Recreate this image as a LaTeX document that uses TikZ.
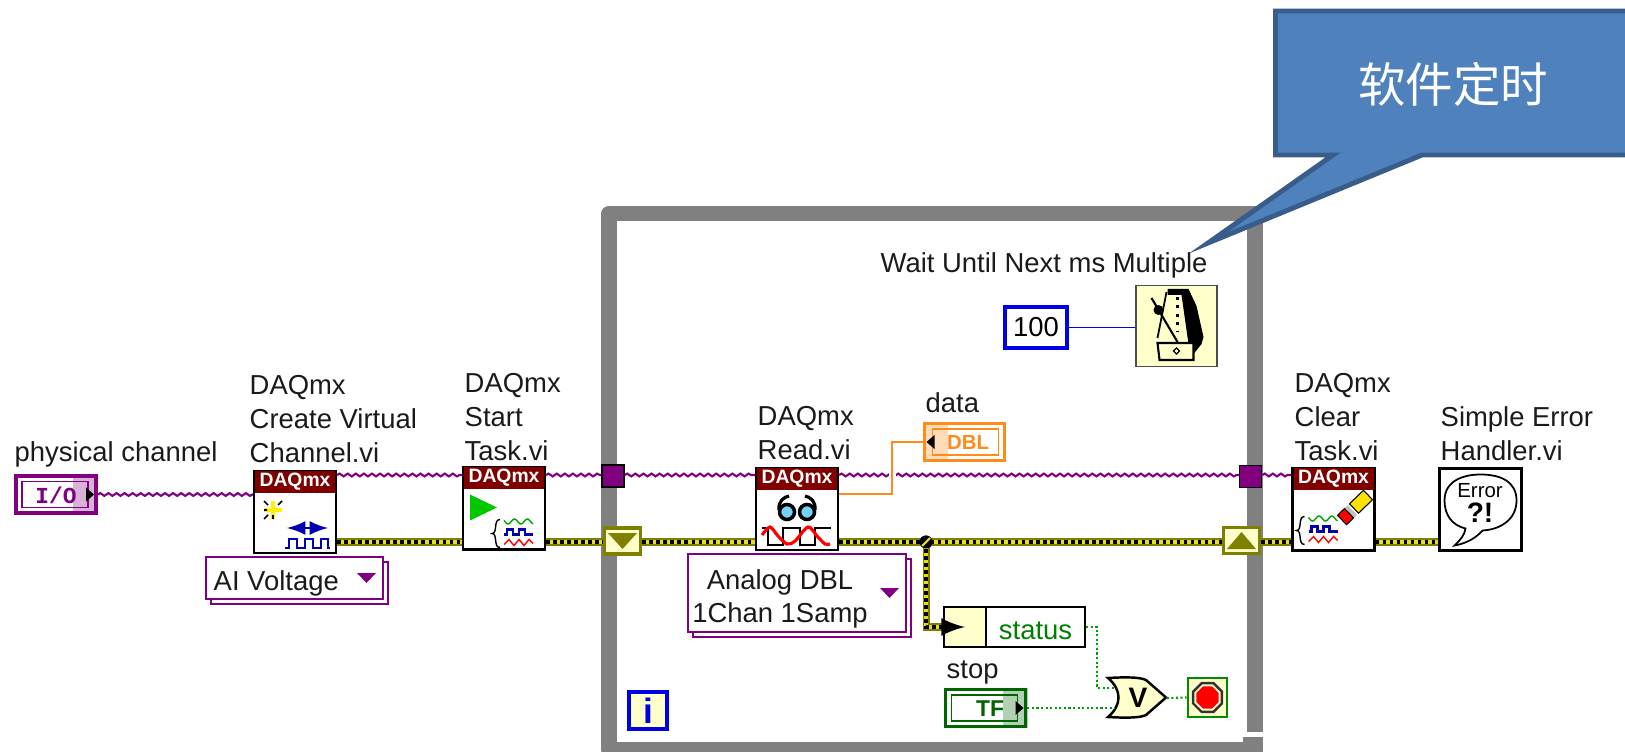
\documentclass[tikz,border=0pt]{standalone}
\usepackage{fontspec}
\setmainfont{Liberation Sans}
\setmonofont{Liberation Mono}
\newfontfamily\cjkfont{Noto Sans CJK SC}
\usetikzlibrary{decorations.pathmorphing,shadows,shapes.geometric}
\definecolor{lvpurple}{HTML}{800080}
\definecolor{lvred}{HTML}{800000}
\definecolor{lvolive}{HTML}{808000}
\definecolor{lvcream}{HTML}{FFFFCC}
\definecolor{lvgreen}{HTML}{006400}
\definecolor{lvdots}{HTML}{00A000}
\definecolor{lvorange}{HTML}{FF8C1A}
\definecolor{lvblue}{HTML}{0000E6}
\definecolor{lvnavy}{HTML}{0000B0}
\definecolor{lvgray}{HTML}{808080}
\definecolor{lvtext}{HTML}{1A1A1A}
\definecolor{noteblue}{HTML}{4F81BD}
\definecolor{noteline}{HTML}{385D8A}
\newcommand{\lvfont}{\fontsize{7.8}{9.55}\selectfont}
\tikzset{
  lvlab/.style={anchor=south west,inner sep=0pt,align=left,text=lvtext,font=\lvfont},
  vinode/.style={draw=black,fill=white,line width=.6pt,minimum width=.82cm,minimum height=.82cm,inner sep=0pt},
  vihead/.style={anchor=north,fill=lvred,text=white,minimum width=.8cm,minimum height=.22cm,inner sep=0pt,font=\fontsize{5.5}{6}\bfseries\selectfont},
  termnode/.style={draw=#1,fill=white,line width=1pt,minimum width=.8cm,minimum height=.37cm,inner sep=0pt},
  enumbox/.style={draw=lvpurple,fill=white,line width=.5pt,inner sep=0pt,copy shadow={shadow xshift=.05cm,shadow yshift=-.05cm}},
  regnode/.style={draw=lvolive,fill=lvcream,line width=1pt,minimum width=.36cm,minimum height=.26cm,inner sep=0pt},
  tunnode/.style={draw=black,fill=lvpurple,line width=.4pt,minimum size=.22cm,inner sep=0pt},
  taskwire/.style={lvpurple,line width=.6pt,decorate,decoration={snake,amplitude=.4pt,segment length=2.3pt}},
  errwire/.style={lvolive,line width=2pt,postaction={draw=yellow!90!black,line width=1.1pt},postaction={draw=black,line width=1.1pt,dash pattern=on 1pt off 1pt}},
  blwire/.style={lvdots,line width=.6pt,dash pattern=on .6pt off .7pt},
  dblwire/.style={lvorange,line width=.55pt},
  intwire/.style={lvblue,line width=.55pt},
  looppen/.style={lvgray,line width=4.3pt,line join=round}
}
% bracket and the three channel traces
\newcommand{\lvwaves}{
  \draw[line width=.4pt] (8,-14) .. controls (1,-14) and (6,0) .. (0,0) .. controls (6,0) and (1,14) .. (8,14);
  \draw[green!65!black,line width=.4pt] plot[domain=12:41,samples=25,smooth] (\x,{-12+2.5*sin(\x*28)});
  \draw[lvnavy,line width=.6pt] (12,1) -- (15,1) -- (15,-4) -- (21,-4) -- (21,1) -- (27,1) -- (27,-4) -- (33,-4) -- (33,1) -- (41,1);
  \draw[red,line width=.4pt] (12,11) -- (17,6) -- (22,12) -- (27,6) -- (32,12) -- (37,6) -- (41,10);
}
% inner ring, shaded end and arrow of a terminal
\newcommand{\lvterm}[1]{
  \draw[#1,line width=.45pt] (-34,-13) rectangle (32,13);
  \fill[#1,opacity=.3] (17,-20) rectangle (42,20);
  \fill[black] (30,-7) -- (38,0) -- (30,7) -- cycle;
}
\begin{document}
\begin{tikzpicture}[x=.01cm,y=-.01cm]
\useasboundingbox (0,0) rectangle (1625,752);
\clip (0,0) rectangle (1625,752);
% loop frame
\draw[looppen] (1255,732) -- (1255,213.5) -- (609,213.5) -- (609,749.5) -- (1263,749.5);
\fill[lvgray] (1243,737) rectangle (1263,752);
\coordinate (tasklev) at (0,475);
\coordinate (errlev) at (0,542);

% front panel terminals
\node[termnode=lvpurple] (iochan) at (56,494.5) {};
\begin{scope}[shift={(iochan.center)}]\lvterm{lvpurple}\end{scope}
\node[font=\fontsize{6.5}{7}\ttfamily\bfseries,text=lvpurple,inner sep=0pt] (iotext) at (56,495) {I/O};
\node[lvlab] (iolab) at (14,468) {physical channel};

\node[termnode=lvorange] (dataind) at (964.5,442) {};
\begin{scope}[shift={(dataind.center)},xscale=-1]\lvterm{lvorange}\end{scope}
\node[font=\fontsize{5.8}{7}\bfseries,text=lvorange,inner sep=0pt] (datatext) at (968,442.5) {DBL};
\node[lvlab] (datalab) at (925,413) {data};

\node[termnode=lvgreen] (stopctl) at (985.5,708) {};
\begin{scope}[shift={(stopctl.center)}]\lvterm{lvgreen}\end{scope}
\node[font=\fontsize{6.5}{7}\bfseries,text=lvgreen,inner sep=0pt] (stoptext) at (990,708.5) {TF};
\node[lvlab] (stoplab) at (946,685) {stop};

% sub VIs
\node[vinode] (vicreate) at (295,512) {};
\node[vihead] (headcreate) at (vicreate.north) {DAQmx};
\node[lvlab] (labcreate) at (249,463) {DAQmx\\Create Virtual\\Channel.vi};
\begin{scope}[shift={(vicreate.center)}]
  \draw[yellow,line width=1.1pt] (-31,-2) -- (-13,-2) (-22,-11) -- (-22,7);
  \draw[black,line width=.45pt] (-31,-11) -- (-27,-7) (-13,-11) -- (-17,-7) (-31,7) -- (-27,3) (-31,-2) -- (-28,-2) (-22,7) -- (-22,3);
  \draw[lvnavy,line width=.8pt,<->,>=latex] (-8,16) -- (33,16);
  \draw[lvnavy,line width=.7pt] (-10,36) -- (-6,36) -- (-6,27) -- (2,27) -- (2,36) -- (10,36) -- (10,27) -- (18,27) -- (18,36) -- (26,36) -- (26,27) -- (33,27) -- (33,36) -- (35,36);
\end{scope}

\node[vinode] (vistart) at (504,508.5) {};
\node[vihead] (headstart) at (vistart.north) {DAQmx};
\node[lvlab] (labstart) at (464,461) {DAQmx\\Start\\Task.vi};
\begin{scope}[shift={(vistart.center)}]
  \fill[green!78!black] (-34,-14) -- (-7,-1) -- (-34,12) -- cycle;
  \begin{scope}[shift={(-12,25)}]\lvwaves\end{scope}
\end{scope}

\node[vinode] (viread) at (797,509) {};
\node[vihead] (headread) at (viread.north) {DAQmx};
\node[lvlab] (labread) at (757,460) {DAQmx\\Read.vi};
\begin{scope}[shift={(viread.center)}]
  \draw[black,line width=1pt,fill=cyan!55] (-10,3) circle (7.5) (10,3) circle (7.5);
  \draw[black,line width=.9pt] (-18,1) .. controls (-19,-8) and (-13,-12) .. (-8,-13) (18,1) .. controls (19,-8) and (13,-12) .. (8,-13);
  \draw[black,line width=.6pt] (-35,19) -- (-29,19) -- (-29,36) -- (-14,36) -- (-14,19) -- (3,19) -- (3,36) -- (18,36) -- (18,19) -- (34,19);
  \draw[red,line width=.9pt] plot[smooth,tension=.5] coordinates {(-35,26) (-27,18) (-19,27) (-10,35) (-2,32) (11,18) (20,27) (28,35) (33,35)};
\end{scope}

\node[vinode] (viclear) at (1333.5,509.5) {};
\node[vihead] (headclear) at (viclear.north) {DAQmx};
\node[lvlab] (labclear) at (1294,461) {DAQmx\\Clear\\Task.vi};
\begin{scope}[shift={(viclear.center)}]
  \begin{scope}[shift={(-37,21)}]\lvwaves\end{scope}
  \fill[gray!50] (4,5.8) -- (14.4,-4.2) -- (23.4,5.2) -- (13,15.2) -- cycle;
  \draw[black,line width=.3pt,fill=red] (4,5.8) -- (11,-1) -- (20,8.4) -- (13,15.2) -- cycle;
  \draw[black,line width=.3pt,fill=yellow!85!orange] (16,-5.7) -- (30,-19.2) -- (39,-9.8) -- (25,3.7) -- cycle;
\end{scope}

\node[vinode] (vierror) at (1480.5,509.5) {};
\node[lvlab] (laberror) at (1440,461) {Simple Error\\Handler.vi};
\begin{scope}[shift={(vierror.center)}]
  \draw[black,line width=.5pt] (-36,-9) .. controls (-36,-30) and (-15,-35) .. (0,-35)
    .. controls (20,-35) and (36,-28) .. (36,-9)
    .. controls (36,10) and (20,20) .. (2,21) .. controls (-4,28) and (-14,34) .. (-26,36)
    .. controls (-20,30) and (-16,26) .. (-15,19) .. controls (-28,16) and (-36,6) .. (-36,-9) -- cycle;
\end{scope}
\node[font=\fontsize{5.8}{6}\selectfont,inner sep=0pt] (errword) at (1480,491) {Error};
\node[font=\fontsize{8}{9}\bfseries,inner sep=0pt] (errmark) at (1480,513) {?!};

% enum constants
\node[enumbox,minimum width=1.77cm,minimum height=.42cm] (aimode) at (294.5,578) {};
\node[lvlab,anchor=west] (aitext) at (213,583) {AI Voltage};
\fill[lvpurple] (357,573) -- (376,573) -- (366.5,583) -- cycle;
\node[enumbox,minimum width=2.18cm,minimum height=.78cm] (readmode) at (797,593) {};
\node[lvlab,anchor=center,align=center] (readtext) at (780,599) {Analog DBL\\1Chan 1Samp};
\fill[lvpurple] (880,588) -- (899,588) -- (889.5,598) -- cycle;

% tunnels and shift registers
\node[tunnode] (tunl) at (613,476) {};
\node[tunnode] (tunr) at (1250.5,476.5) {};
\node[regnode] (regl) at (622.5,541) {};
\fill[lvolive] (608,533) -- (637,533) -- (622.5,549) -- cycle;
\node[regnode] (regr) at (1241.5,540.5) {};
\fill[lvolive] (1227,549) -- (1256,549) -- (1241.5,532) -- cycle;

% wait timer
\node[lvlab] (waitlab) at (880,279) {Wait Until Next ms Multiple};
\node[draw=lvblue,fill=white,line width=1pt,minimum width=.62cm,minimum height=.41cm,inner sep=0pt,font=\lvfont] (waitval) at (1036,327.5) {100};
\node[draw=black!70,fill=lvcream,line width=.5pt,minimum width=.81cm,minimum height=.81cm,inner sep=0pt] (metro) at (1176.5,326) {};
\begin{scope}[shift={(metro.center)}]
  \draw[black,line width=.5pt] (-10,-34) -- (-19,12);
  \fill[black] (-9,-37) -- (12,-37) -- (20,-20) -- (27,11) -- (25,18) -- (17,28) -- (12,18) -- (5,-31) -- (-9,-31) -- cycle;
  \draw[black,line width=.6pt,dash pattern=on .8pt off 1.6pt] (1,-29) -- (1,6);
  \draw[black,line width=.6pt,fill=lvcream] (-19,17) -- (17,17) -- (17,34) -- (-17,34) -- cycle;
  \draw[black,line width=.6pt] (-25,-28) -- (1,16);
  \fill[black] (-18,-16) circle (5);
  \draw[black,line width=.35pt] (-3,25) -- (0,22) -- (3,25) -- (0,28) -- cycle;
\end{scope}

% while loop furniture
\node[draw=lvblue,fill=lvcream,line width=1.1pt,minimum width=.38cm,minimum height=.37cm,inner sep=0pt,text=lvblue,font=\fontsize{10}{11}\bfseries\selectfont] (iterm) at (648,710.5) {i};
\node[draw=black,fill=lvcream,line width=.5pt,minimum width=.42cm,minimum height=.4cm,inner sep=0pt] (unbl) at (965,627) {};
\node[draw=black,fill=white,line width=.5pt,minimum width=.99cm,minimum height=.4cm,inner sep=0pt,text=green!50!black,font=\lvfont] (unbr) at (1035.5,627) {\raisebox{-1pt}[\height][0pt]{status}};
\node[draw=green!55!black,fill=lvcream,line width=.8pt,minimum width=.39cm,minimum height=.39cm,inner sep=0pt] (stopterm) at (1207.5,697.5) {};
\node[regular polygon,regular polygon sides=8,draw=black!80,line width=.7pt,minimum size=.31cm,inner sep=0pt] (stopring) at (stopterm.center) {};
\node[regular polygon,regular polygon sides=8,fill=red,minimum size=.24cm,inner sep=0pt] (stopdot) at (stopterm.center) {};
\draw[black,line width=.7pt,fill=lvcream,line join=miter] (1108,678) .. controls (1125,677) and (1140,677) .. (1146,680) -- (1166,697.5)
  -- (1146,715) .. controls (1140,718) and (1125,718) .. (1108,717) .. controls (1122,705) and (1122,690) .. (1108,678) -- cycle;
\node[font=\fontsize{8}{9}\bfseries,inner sep=0pt,minimum width=.56cm] (orgate) at (1138,698) {V};
\coordinate (orina) at (1115,688);
\coordinate (orinb) at (1115,708);

% wires
\draw[taskwire] (iochan.east) -- (vicreate.west |- iochan.east);
\draw[taskwire] (vicreate.east |- tasklev) -- (vistart.west |- tasklev);
\draw[taskwire] (vistart.east |- tasklev) -- (tunl.west |- tasklev);
\draw[taskwire] (tunl.east |- tasklev) -- (viread.west |- tasklev);
\draw[taskwire] (viread.east |- tasklev) -- (tunr.west |- tasklev);
\draw[taskwire] (tunr.east |- tasklev) -- (viclear.west |- tasklev);
\draw[errwire] (vicreate.east |- errlev) -- (vistart.west |- errlev);
\draw[errwire] (vistart.east |- errlev) -- (regl.west |- errlev);
\draw[errwire] (regl.east |- errlev) -- (viread.west |- errlev);
\node[circle,fill=black,minimum size=.13cm,inner sep=0pt] (junc) at (926,542) {};
\draw[errwire] (viread.east |- errlev) -- (regr.west |- errlev);
\draw[errwire] (junc.center) |- (unbl.west);
\draw[errwire] (regr.east |- errlev) -- (viclear.west |- errlev);
\draw[errwire] (viclear.east |- errlev) -- (vierror.west |- errlev);
\fill[black] (junc) circle (6.5);
\draw[yellow!90!black,line width=.6pt] (922,546) -- (930,538);
\draw[black,line width=1.3pt,-latex] (unbl.west) -- (unbl.center);
\coordinate (readout) at (viread.east |- 0,494);
\draw[dblwire,preaction={draw=white,line width=2pt}] (readout) -| (892,442) -- (dataind.west);
\draw[intwire] (waitval.east) -- (metro.west |- waitval.east);
\draw[blwire] (unbr.east) -- (1097,627) |- (orina);
\draw[blwire] (stopctl.east) -- (orinb);
\draw[blwire] (orgate.east) -- (stopterm.west);

% callout
\draw[noteline,fill=noteblue,line width=1.4pt,line join=miter] (1275.5,11) -- (1640,11) -- (1640,155) -- (1422,155) -- (1208,243) -- (1333,155) -- (1275.5,155) -- cycle;
\node[text=white,font=\cjkfont\fontsize{13.5}{15}\selectfont,inner sep=0pt] (notetext) at (1453,84) {软件定时};
\end{tikzpicture}
\end{document}
